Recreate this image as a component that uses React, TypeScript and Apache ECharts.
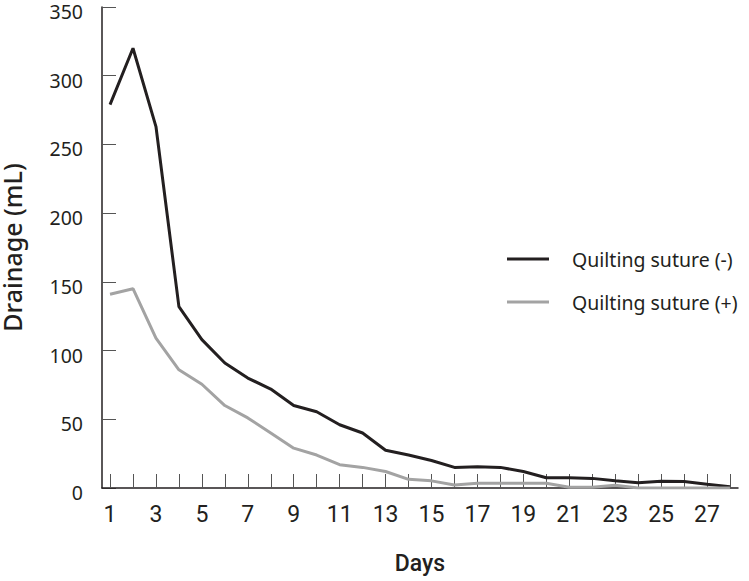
import React, { useEffect, useRef } from "react";
import * as echarts from "echarts";

const days = [1, 2, 3, 4, 5, 6, 7, 8, 9, 10, 11, 12, 13, 14, 15, 16, 17, 18, 19, 20, 21, 22, 23, 24, 25, 26, 27, 28];
const withoutSuture = [279, 320, 263, 132, 108, 91, 80, 72, 60, 55.5, 46, 40, 27.5, 24, 20, 15, 15.5, 15, 12, 7.5, 7.5, 7, 5.3, 3.9, 5, 4.8, 2.7, 1];
const withSuture = [141, 145, 109, 86, 75.5, 60, 51, 40, 29, 24, 17, 15, 12, 6.3, 5.2, 2.2, 3.4, 3.4, 3.4, 3.4, 0.5, 0.5, 2, 0, 0, 0, 0, 0];
const xTickValues = days;
const xLabelValues = [1, 3, 5, 7, 9, 11, 13, 15, 17, 19, 21, 23, 25, 27];
const seriesNames = ["Quilting suture (-)", "Quilting suture (+)"];

const DARK = "#231f20";
const GRAY = "#a3a3a3";
const NARROW = "Roboto, 'Noto Sans', sans-serif";
const SANS = "'Noto Sans', 'Open Sans', sans-serif";

export default function App() {
  const ref = useRef<HTMLDivElement>(null);
  useEffect(() => {
    if (!ref.current) return;
    const chart = echarts.init(ref.current, null, { renderer: "svg" });
    chart.setOption({
      animation: false,
      backgroundColor: "#ffffff",
      grid: { left: 102, right: 11, top: 7, bottom: 93, containLabel: false, outerBoundsMode: "none" },
      legend: {
        orient: "vertical",
        left: 502,
        top: 244,
        itemWidth: 42,
        itemHeight: 3,
        itemGap: 23,
        icon: "rect",
        data: seriesNames,
        textStyle: {
          fontFamily: SANS,
          fontSize: 19.5,
          color: DARK,
          lineHeight: 20,
          padding: [0, 0, 0, 18],
        },
      },
      xAxis: {
        type: "value",
        min: 0.65,
        max: 28.35,
        z: 3,
        name: "Days",
        nameLocation: "middle",
        nameGap: 64,
        nameTextStyle: { fontFamily: NARROW, fontSize: 23, color: DARK, fontWeight: 500 },
        axisLine: { show: true, onZero: false, lineStyle: { color: DARK, width: 1.5 } },
        axisTick: {
          show: true,
          inside: true,
          length: 14,
          customValues: xTickValues,
          lineStyle: { color: "#555555", width: 1 },
        },
        axisLabel: {
          customValues: xLabelValues,
          margin: 15,
          fontFamily: NARROW,
          fontSize: 23,
          color: DARK,
        },
        splitLine: { show: false },
      },
      yAxis: {
        type: "value",
        min: 0,
        max: 350,
        interval: 50,
        name: "Drainage (mL)",
        nameLocation: "middle",
        nameGap: 78,
        nameRotate: 90,
        nameTextStyle: { fontFamily: SANS, fontSize: 25, color: DARK, fontWeight: 500 },
        axisLine: { show: true, lineStyle: { color: DARK, width: 1.5 } },
        axisTick: { show: true, inside: true, length: 14, lineStyle: { color: "#555555", width: 1 } },
        axisLabel: {
          margin: 19,
          verticalAlign: "top",
          lineHeight: 9,
          fontFamily: SANS,
          fontSize: 19.5,
          color: DARK,
        },
        splitLine: { show: false },
      },
      series: [
        {
          name: seriesNames[0],
          type: "line",
          symbol: "none",
          color: DARK,
          lineStyle: { color: DARK, width: 3 },
          data: days.map((d, i) => [d, withoutSuture[i]]),
        },
        {
          name: seriesNames[1],
          type: "line",
          symbol: "none",
          color: GRAY,
          lineStyle: { color: GRAY, width: 3 },
          data: days.map((d, i) => [d, withSuture[i]]),
        },
      ],
    });
    return () => chart.dispose();
  }, []);
  return <div ref={ref} style={{ width: 749, height: 581, position: "absolute", left: 0, top: 0 }} />;
}
